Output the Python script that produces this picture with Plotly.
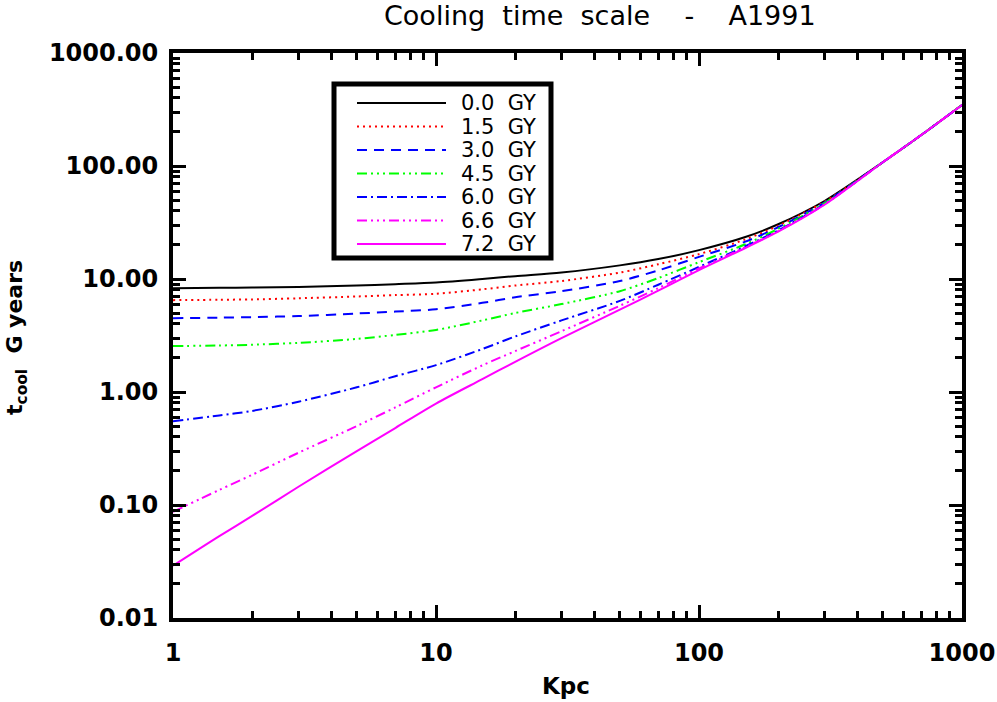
import plotly.graph_objects as go

# radius (Kpc) and cooling time (G years), one list per age
kpc = [1, 1.5, 2, 3, 5, 7, 10, 15, 20, 30, 50, 70, 100, 150, 200, 300, 500, 700, 1000]

t_00 = [8.3, 8.35, 8.4, 8.5, 8.75, 9.0, 9.3, 10.0, 10.6, 11.4, 13.2, 15.0, 18.0, 23.5, 30.5, 49, 108, 188, 347]
t_15 = [6.5, 6.55, 6.6, 6.75, 7.0, 7.2, 7.4, 8.1, 8.75, 9.6, 11.4, 13.5, 16.6, 22.4, 29.6, 48.3, 108, 188, 347]
t_30 = [4.5, 4.55, 4.6, 4.7, 4.95, 5.15, 5.4, 6.15, 6.9, 7.8, 9.6, 11.9, 15.7, 21.4, 28.7, 47.5, 108, 188, 347]
t_45 = [2.55, 2.58, 2.62, 2.72, 2.95, 3.2, 3.54, 4.3, 5.0, 6.0, 7.8, 10.2, 14.1, 20.3, 27.8, 46.8, 108, 188, 347]
t_60 = [0.55, 0.62, 0.68, 0.82, 1.1, 1.38, 1.73, 2.4, 3.1, 4.3, 6.4, 8.9, 12.8, 19.5, 26.9, 46, 108, 188, 347]
t_66 = [0.087, 0.136, 0.185, 0.29, 0.5, 0.73, 1.1, 1.72, 2.3, 3.45, 5.8, 8.3, 12.4, 19.1, 26.5, 45.7, 108, 188, 347]
t_72 = [0.029, 0.053, 0.08, 0.145, 0.3, 0.48, 0.79, 1.3, 1.85, 3.0, 5.35, 7.9, 12.0, 18.8, 26.2, 45.4, 108, 188, 347]

ages = ["0.0", "1.5", "3.0", "4.5", "6.0", "6.6", "7.2"]
y_ticks = [0.01, 0.1, 1, 10, 100, 1000]
y_ticktext = ["0.01", "0.10", "1.00", "10.00", "100.00", "1000.00"]
x_ticks = [1, 10, 100, 1000]
x_ticktext = ["1", "10", "100", "1000"]

series = [t_00, t_15, t_30, t_45, t_60, t_66, t_72]
colours = ["black", "#ff0000", "#0000ff", "#00ff00", "#0000ff", "#ff00ff", "#ff00ff"]
dashes = [
    "solid",
    "2px,4px",
    "10px,7px",
    "10px,4px,2px,4px,2px,4px,2px,4px",
    "10px,4px,2px,4px",
    "10px,4px,2px,4px,2px,4px,2px,4px",
    "solid",
]

FONT = "DejaVu Sans"
W, H = 997, 702
L, R, T, B = 173, 962, 53, 618  # plot box in pixels


def px_x(p):
    return (p - L) / (R - L)


def px_y(p):
    return (B - p) / (B - T)


fig = go.Figure()
for vals, col, dash, age in zip(series, colours, dashes, ages):
    fig.add_trace(
        go.Scatter(
            x=kpc,
            y=vals,
            mode="lines",
            name=age + " GY",
            line=dict(color=col, width=2, dash=dash, shape="spline", smoothing=0.8),
            showlegend=False,
        )
    )

# hand-made legend box like the IDL one
shapes = [
    dict(
        type="rect", xref="paper", yref="paper",
        x0=px_x(334), x1=px_x(551), y0=px_y(84), y1=px_y(258),
        line=dict(color="black", width=5), fillcolor="white", layer="above",
    )
]
annotations = []
for i, (col, dash, age) in enumerate(zip(colours, dashes, ages)):
    yy = px_y(103 + 23.5 * i)
    shapes.append(
        dict(
            type="line", xref="paper", yref="paper",
            x0=px_x(357), x1=px_x(446), y0=yy, y1=yy,
            line=dict(color=col, width=2, dash=dash), layer="above",
        )
    )
    annotations.append(
        dict(
            xref="paper", yref="paper", x=px_x(459), y=yy,
            xanchor="left", yanchor="middle", showarrow=False,
            text=age + "\u00a0\u00a0GY", font=dict(family=FONT, size=21, color="black"),
        )
    )

annotations.append(
    dict(
        xref="paper", yref="paper", x=px_x(600), y=px_y(16),
        xanchor="center", yanchor="middle", showarrow=False,
        text="Cooling\u00a0\u00a0time\u00a0\u00a0scale\u00a0\u00a0\u00a0\u00a0-\u00a0\u00a0\u00a0\u00a0A1991",
        font=dict(family=FONT, size=27, color="black"),
    )
)
annotations.append(
    dict(
        xref="paper", yref="paper", x=px_x(16), y=px_y(338),
        xanchor="center", yanchor="middle", showarrow=False, textangle=-90,
        text="<b>t<sub>cool</sub>\u00a0\u00a0G\u00a0years</b>",
        font=dict(family=FONT, size=22, color="black"),
    )
)
annotations.append(
    dict(
        xref="paper", yref="paper", x=px_x(566), y=px_y(686),
        xanchor="center", yanchor="middle", showarrow=False,
        text="<b>Kpc</b>", font=dict(family=FONT, size=23, color="black"),
    )
)

minor_x = [m * 10 ** d for d in range(0, 3) for m in range(2, 10)]
minor_y = [m * 10.0 ** d for d in range(-2, 3) for m in range(2, 10)]

axis_common = dict(
    type="log",
    showgrid=False,
    zeroline=False,
    showline=True,
    linecolor="black",
    linewidth=4,
    mirror="ticks",
    ticks="inside",
    ticklen=13,
    tickwidth=3,
    tickcolor="black",
    tickfont=dict(family=FONT, size=24, color="black", weight="bold"),
)

fig.update_xaxes(
    **axis_common,
    range=[0, 3],
    tickvals=x_ticks,
    ticktext=x_ticktext,
    ticklabelstandoff=10,
    minor=dict(ticks="inside", ticklen=7, tickwidth=3, tickcolor="black", tickvals=minor_x),
)
fig.update_yaxes(
    **axis_common,
    range=[-2, 3],
    tickvals=y_ticks,
    ticktext=y_ticktext,
    ticklabelstandoff=6,
    minor=dict(ticks="inside", ticklen=7, tickwidth=3, tickcolor="black", tickvals=minor_y),
)

fig.update_layout(
    width=W,
    height=H,
    margin=dict(l=L, r=W - R, t=T, b=H - B, autoexpand=False),
    plot_bgcolor="white",
    paper_bgcolor="white",
    font=dict(family=FONT, color="black"),
    shapes=shapes,
    annotations=annotations,
    showlegend=False,
)

# drop the browser's default body margin so the figure sits at the page corner
fig.write_html(
    "out.html",
    config={"displayModeBar": False},
    post_script="document.body.style.margin='0';",
)
